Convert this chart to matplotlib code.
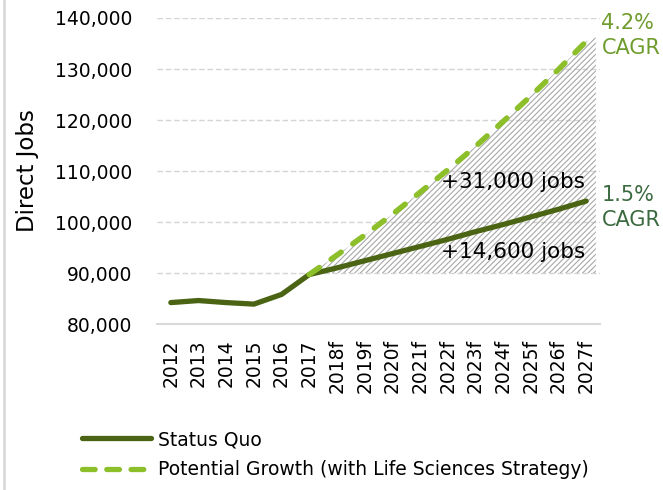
import matplotlib
matplotlib.use('Agg')
import matplotlib.pyplot as plt
from matplotlib.lines import Line2D
import numpy as np

years = ['2012', '2013', '2014', '2015', '2016', '2017', '2018f', '2019f', '2020f',
         '2021f', '2022f', '2023f', '2024f', '2025f', '2026f', '2027f']
status_quo = [84200, 84600, 84200, 83900, 85800, 89700, 91000, 92400, 93800,
              95200, 96600, 98100, 99500, 101000, 102500, 104100]
# potential growth starts at 2017
potential = [89700, 93500, 97400, 101500, 105800, 110200, 114800, 119700,
             124700, 129900, 135400]
baseline = 90000

dark = '#4a6414'
light = '#8cbf2a'

plt.rcParams['font.family'] = 'DejaVu Sans'
plt.rcParams['hatch.color'] = '#a8a8a8'
plt.rcParams['hatch.linewidth'] = 0.8

fig = plt.figure(figsize=(6.63, 4.9), dpi=100)
ax = fig.add_axes([157/663, 1 - 324/490, 443/663, 306/490])

x = np.arange(len(years))
xp = x[5:]

# hatched gap area, pushed a bit past the last point
x_fill = np.append(xp, 15.35)
top_fill = np.append(potential, potential[-1] + 0.15 * (potential[-1] - potential[-2]))
ax.fill_between(x_fill, baseline, top_fill, facecolor='none', edgecolor='#a8a8a8',
                hatch='//////', linewidth=0, zorder=1)

ax.plot(x, status_quo, color=dark, lw=3.8, solid_capstyle='round', zorder=3,
        label='Status Quo')
ax.plot(xp, potential, color=light, lw=4, dashes=(2.2, 2.6), dash_capstyle='round',
        zorder=4, label='Potential Growth (with Life Sciences Strategy)')

ax.set_xlim(-0.5, 15.5)
ax.set_ylim(80000, 140000)
ax.set_yticks(range(80000, 140001, 10000))
ax.set_yticklabels(['{:,}'.format(v) for v in range(80000, 140001, 10000)])
ax.set_xticks(x)
ax.set_xticklabels(years, rotation=90)
ax.tick_params(axis='y', length=0, pad=18, labelsize=13.5)
ax.tick_params(axis='x', length=0, pad=11, labelsize=13.5)
for v in range(90000, 140001, 10000):
    ax.axhline(v, color='#d4d4d4', lw=1, ls=(0, (4, 2)), zorder=0)
for s in ['top', 'right', 'left']:
    ax.spines[s].set_visible(False)
ax.spines['bottom'].set_color('#d9d9d9')
ax.spines['bottom'].set_linewidth(1.5)
ax.set_ylabel('Direct Jobs', fontsize=16.5, labelpad=11)

ax.text(14.95, 107800, '+31,000 jobs', ha='right', va='center', fontsize=15.5, zorder=5)
ax.text(14.95, 94100, '+14,600 jobs', ha='right', va='center', fontsize=15.5, zorder=5)
ax.text(15.55, 136600, '4.2%\nCAGR', ha='left', va='center', fontsize=15,
        color='#6f9c2c', linespacing=1.3, clip_on=False)
ax.text(15.55, 102900, '1.5%\nCAGR', ha='left', va='center', fontsize=15,
        color='#3b6a40', linespacing=1.3, clip_on=False)

handles = [Line2D([], [], color=dark, lw=3.8, solid_capstyle='round'),
           Line2D([], [], color=light, lw=3.8, dashes=(2.4, 2.2), dash_capstyle='round')]
fig.legend(handles, ['Status Quo', 'Potential Growth (with Life Sciences Strategy)'],
           loc='upper left', bbox_to_anchor=(82/663, 1 - 430/490), frameon=False,
           fontsize=13.5, handlelength=3.7, handletextpad=0.35, labelspacing=0.6,
           borderpad=0, borderaxespad=0)

# thin grey border line at the left edge
fig.add_artist(Line2D([4/663, 4/663], [0, 1], color='#d9d9d9', lw=2))

fig.savefig('out.png', dpi=100)
